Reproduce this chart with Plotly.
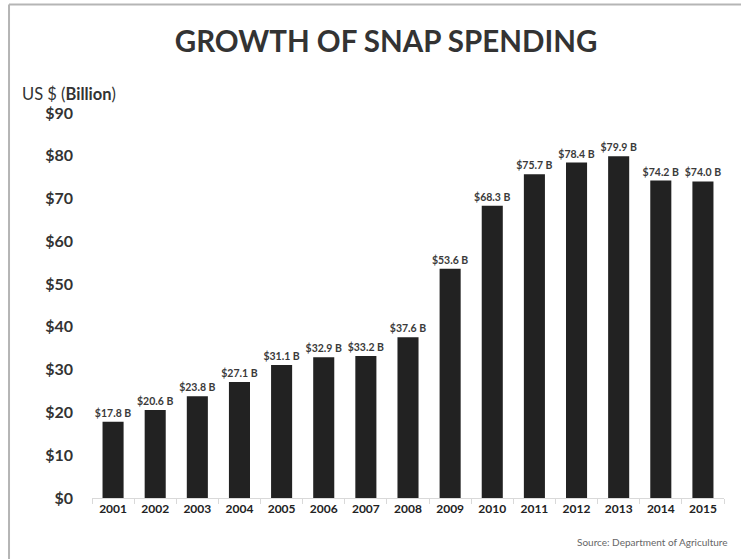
import plotly.graph_objects as go

years = ["2001", "2002", "2003", "2004", "2005", "2006", "2007", "2008",
         "2009", "2010", "2011", "2012", "2013", "2014", "2015"]
spending = [17.8, 20.6, 23.8, 27.1, 31.1, 32.9, 33.2, 37.6,
            53.6, 68.3, 75.7, 78.4, 79.9, 74.2, 74.0]

FONT = "Lato"

fig = go.Figure(go.Bar(
    x=years, y=spending,
    marker=dict(color="#222222", line=dict(width=0)),
    width=0.5,
    texttemplate="<b>$%{y:.1f} B</b>",
    textposition="outside",
    constraintext="none",
    textfont=dict(family=FONT, size=10.5, color="#3a3a3a"),
    cliponaxis=False,
    hoverinfo="skip",
))

fig.update_layout(
    width=741, height=559,
    margin=dict(l=92, r=17, t=113, b=61),
    paper_bgcolor="white", plot_bgcolor="white",
    showlegend=False,
    font=dict(family=FONT, color="#333333"),
    title=dict(text="<b>GROWTH OF SNAP SPENDING</b>", x=0.521, xanchor="center",
               y=0.925, yanchor="middle",
               font=dict(family=FONT, size=29.5, color="#333333")),
    xaxis=dict(
        type="category", showgrid=False,
        showline=True, linecolor="#d9d9d9", linewidth=1,
        ticks="outside", ticklen=5, tickcolor="#d9d9d9", tickson="boundaries",
        tickfont=dict(family=FONT, size=12, color="#222222"),
        tickprefix="<b>", ticksuffix="</b>",
    ),
    yaxis=dict(
        range=[0, 90], dtick=10, showgrid=False, zeroline=False,
        tickprefix="<b>$", ticksuffix="</b>",
        tickfont=dict(family=FONT, size=16, color="#333333"),
        ticklabelstandoff=18,
    ),
    annotations=[
        dict(text="US $ (<b>Billion</b>)", xref="paper", yref="paper",
             x=-0.114, y=1.05, xanchor="left", yanchor="middle", showarrow=False,
             font=dict(family=FONT, size=16.5, color="#333333")),
        dict(text="Source: Department of Agriculture", xref="paper", yref="paper",
             x=1.01, y=-0.115, xanchor="right", yanchor="middle", showarrow=False,
             font=dict(family=FONT, size=10, color="#666666")),
    ],
    shapes=[
        dict(type="line", xref="paper", yref="paper", x0=-0.1313, x1=1.1, y0=1.2818, y1=1.2818,
             line=dict(color="#b5b5b5", width=2)),
        dict(type="line", xref="paper", yref="paper", x0=-0.1313, x1=-0.1313, y0=1.2818, y1=-0.2,
             line=dict(color="#b5b5b5", width=2)),
    ],
)

fig.write_html("out.html", config={"displayModeBar": False},
               post_script="document.body.style.margin='0';")
